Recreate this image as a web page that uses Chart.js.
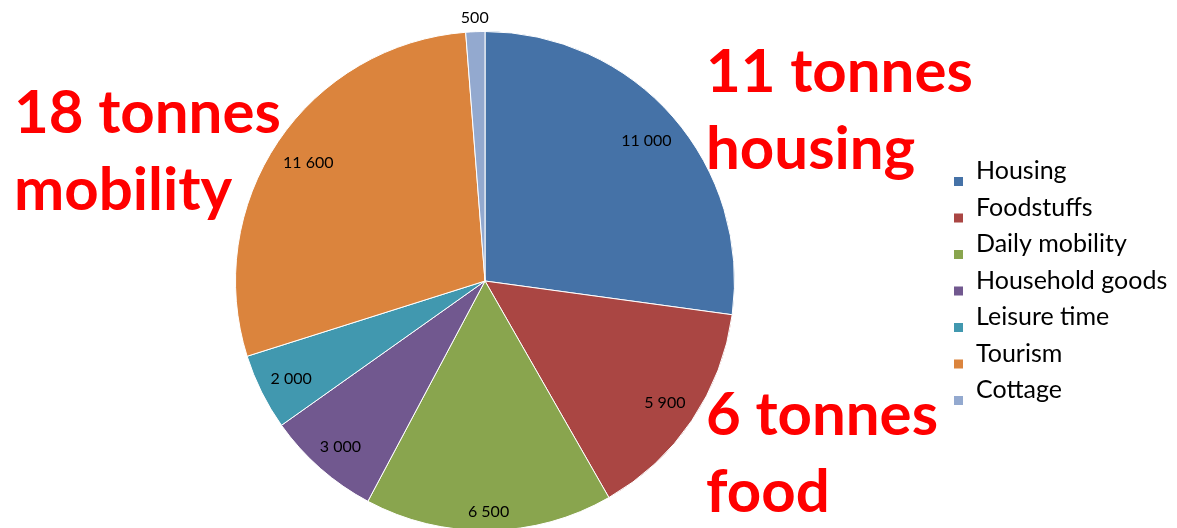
<!DOCTYPE html>
<html>
<head>
<meta charset="utf-8">
<script src="https://cdn.jsdelivr.net/npm/chart.js@4/dist/chart.umd.min.js"></script>
<style>
  html, body { margin: 0; padding: 0; background: #fff; overflow: hidden; }
  #wrap { width: 1177px; height: 540px; }
</style>
</head>
<body>
<div id="wrap"><canvas id="pie-chart" width="1177" height="540"></canvas></div>
<script>
const CATEGORIES = ["Housing", "Foodstuffs", "Daily mobility", "Household goods", "Leisure time", "Tourism", "Cottage"];
const EMISSIONS = [11000, 5900, 6500, 3000, 2000, 11600, 500];
const COLORS = ["#4572A7", "#AA4643", "#89A54E", "#71588F", "#4198AF", "#DB843D", "#93A9CF"];
const NOTES = [["11 tonnes", "housing"], ["6 tonnes", "food"], ["18 tonnes", "mobility"]];

// where the red notes sit (left x, first baseline)
const NOTE_SPOTS = [[706, 92], [706, 435], [14, 133]];

function fmt(v) {
  return String(v).replace(/\B(?=(\d{3})+(?!\d))/g, " ");
}

const sliceLabels = {
  id: "sliceLabels",
  afterDatasetsDraw(chart) {
    const ctx = chart.ctx;
    const meta = chart.getDatasetMeta(0);
    const total = EMISSIONS.reduce((a, b) => a + b, 0);
    ctx.save();
    ctx.font = "16px Lato";
    ctx.fillStyle = "#000";
    ctx.textAlign = "center";
    ctx.textBaseline = "middle";
    meta.data.forEach((arc, i) => {
      const p = arc.getProps(["x", "y", "startAngle", "endAngle", "outerRadius"], true);
      const mid = (p.startAngle + p.endAngle) / 2;
      const c = Math.cos(mid), s = Math.sin(mid);
      const text = fmt(EMISSIONS[i]);
      const w = ctx.measureText(text).width;
      const ext = Math.abs(c) * w / 2 + Math.abs(s) * 8;
      const r = EMISSIONS[i] / total < 0.03 ? p.outerRadius + 6 + ext : p.outerRadius - 11 - ext;
      ctx.fillText(text, p.x + c * r, p.y + s * r + 1);
    });
    ctx.restore();
  },
};

const sideLegend = {
  id: "sideLegend",
  afterDraw(chart) {
    const ctx = chart.ctx;
    const colors = chart.data.datasets[0].backgroundColor;
    ctx.save();
    ctx.font = "25px Lato";
    ctx.textBaseline = "alphabetic";
    chart.data.labels.forEach((label, i) => {
      const y = 179 + i * 36.5;
      ctx.fillStyle = colors[i];
      ctx.fillRect(954, y - 2, 9, 9);
      ctx.fillStyle = "#000";
      ctx.fillText(label, 976, y);
    });
    ctx.restore();
  },
};

const redNotes = {
  id: "redNotes",
  afterDraw(chart) {
    const ctx = chart.ctx;
    ctx.save();
    ctx.font = "bold 60px Lato";
    ctx.fillStyle = "#FF0000";
    ctx.textBaseline = "alphabetic";
    NOTES.forEach((lines, i) => {
      const [x, y] = NOTE_SPOTS[i];
      lines.forEach((line, j) => ctx.fillText(line, x, y + j * 77));
    });
    ctx.restore();
  },
};

function mount() {
  const ctx = document.getElementById("pie-chart").getContext("2d");
  new Chart(ctx, {
    type: "pie",
    data: {
      labels: CATEGORIES,
      datasets: [{
        data: EMISSIONS,
        backgroundColor: COLORS,
        borderColor: "#ffffff",
        borderWidth: 1,
      }],
    },
    options: {
      responsive: false,
      animation: false,
      events: [],
      layout: { padding: { left: 235, right: 442, top: 31, bottom: 9 } },
      plugins: {
        legend: { display: false },
        tooltip: { enabled: false },
      },
    },
    plugins: [sliceLabels, sideLegend, redNotes],
  });
}

document.addEventListener("DOMContentLoaded", mount);
</script>
</body>
</html>
